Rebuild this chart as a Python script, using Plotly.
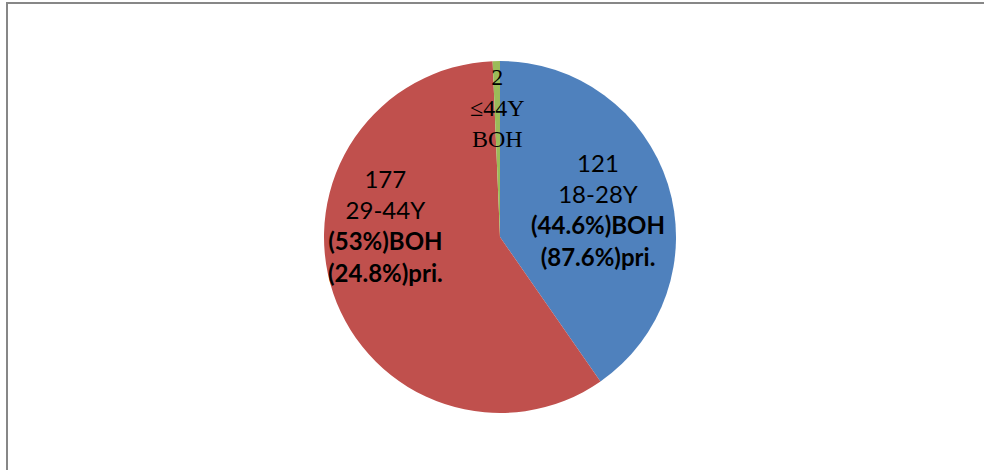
import plotly.graph_objects as go

# Age groups and their counts
groups = ["18-28Y", "29-44Y", "≤44Y"]
counts = [121, 177, 2]
boh_pct = ["44.6%", "53%", None]
pri_pct = ["87.6%", "24.8%", None]
colors = ["#4F81BD", "#C0504D", "#9BBB59"]

W, H = 984, 470
cx, cy, r = 500, 237, 176  # pie centre and radius in pixels

fig = go.Figure(go.Pie(
    labels=groups,
    values=counts,
    sort=False,
    direction="clockwise",
    rotation=0,
    marker=dict(colors=colors, line=dict(width=0)),
    textinfo="none",
    hoverinfo="label+value",
    showlegend=False,
    domain=dict(x=[(cx - r) / W, (cx + r) / W],
                y=[(H - cy - r) / H, (H - cy + r) / H]),
))

# Label text for each slice
sans = dict(family="Lato, 'Open Sans', sans-serif", size=24, color="#000000")
serif = dict(family="'Liberation Serif', 'DejaVu Serif', serif", size=24, color="#000000")

label_pos = [(598, 209), (385, 225), (497, 108)]
for i, (g, n) in enumerate(zip(groups, counts)):
    if boh_pct[i] is not None:
        txt = (f"{n}<br>{g}<br><b>({boh_pct[i]})BOH</b><br><b>({pri_pct[i]})pri.</b>")
        font = sans
    else:
        txt = f"{n}<br>{g}<br>BOH"
        font = serif
    x, y = label_pos[i]
    fig.add_annotation(
        x=x / W, y=1 - y / H, xref="paper", yref="paper",
        text=txt, showarrow=False, font=font, align="center",
        xanchor="center", yanchor="middle",
    )

# Chart area frame
fig.add_shape(type="rect", xref="paper", yref="paper",
              x0=7 / W, y0=-0.02, x1=1.02, y1=1 - 3 / H,
              line=dict(color="#878787", width=2), fillcolor="rgba(0,0,0,0)")

fig.update_layout(
    width=W, height=H,
    margin=dict(l=0, r=0, t=0, b=0),
    paper_bgcolor="white", plot_bgcolor="white",
)

fig.write_html("out.html")
